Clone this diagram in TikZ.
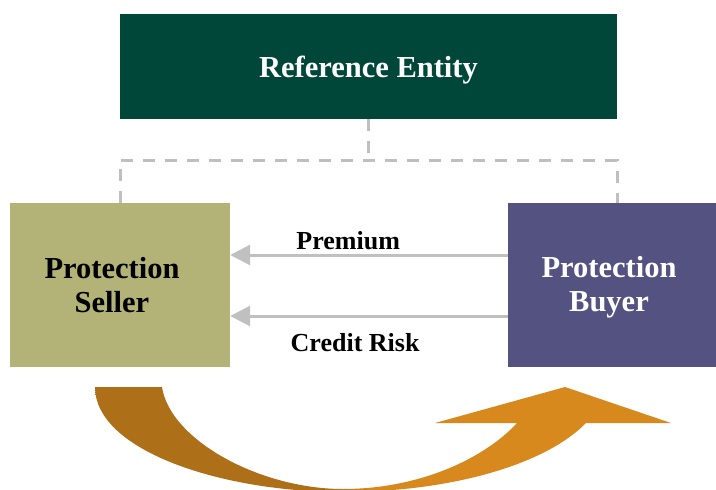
\documentclass[tikz,border=0pt]{standalone}
\usepackage{fontspec}
\setmainfont{Liberation Serif}
\usetikzlibrary{arrows.meta}
\definecolor{refgreen}{RGB}{0,71,58}
\definecolor{selolive}{RGB}{179,178,119}
\definecolor{buypurple}{RGB}{83,82,128}
\definecolor{dashgray}{RGB}{191,191,191}
\definecolor{arrgray}{RGB}{192,192,192}
\definecolor{arrbrown}{RGB}{173,112,24}
\definecolor{arrorange}{RGB}{216,137,30}
\pgfdeclarehorizontalshading{curvshade}{100bp}{color(0bp)=(arrbrown); color(45bp)=(arrbrown); color(49bp)=(arrorange); color(100bp)=(arrorange)}
\tikzset{
  box/.style={inner sep=0pt, align=center, font=\bfseries\fontsize{30.5}{34}\selectfont},
  dashline/.style={draw=dashgray, line width=3pt, dash pattern=on 12pt off 10pt},
  flow/.style={draw=arrgray, line width=3pt, -{Triangle[length=20pt,width=20pt]}},
  lbl/.style={font=\bfseries\fontsize{26}{30}\selectfont, text=black}
}
\begin{document}
\begin{tikzpicture}[x=1pt,y=-1pt]
\useasboundingbox (0,0) rectangle (716,490);
\node[box, fill=refgreen, minimum width=497pt, minimum height=105pt,
  label={[box, text=white, yshift=-4pt]center:Reference Entity}] (ref) at (368.5,66.5) {};
\node[box, fill=selolive, minimum width=220pt, minimum height=164pt,
  label={[box, text=black, xshift=-8pt]center:{Protection\\Seller}}] (seller) at (120,285) {};
\node[box, fill=buypurple, minimum width=208pt, minimum height=164pt,
  label={[box, text=white, xshift=-3pt, yshift=-2pt]center:{Protection\\Buyer}}] (buyer) at (612,285) {};
\draw[dashline] (ref.south) -- ++(0,41) coordinate (mid);
\draw[dashline] (seller.north) |- (mid) -| ([xshift=5pt]buyer.north);
\draw[flow] ([yshift=30pt]buyer.west) -- node[lbl, pos=0.575, yshift=14pt] {Premium} ([yshift=30pt]seller.east);
\draw[flow] ([yshift=-31pt]buyer.west) -- node[lbl, pos=0.55, yshift=-27pt] {Credit Risk} ([yshift=-31pt]seller.east);
\shade[shading=curvshade] (95,387) -- (162,387) .. controls (170,440) and (260,489) .. (343,489)
  .. controls (420,489) and (485,458) .. (517,423) -- (435,423) -- (565,387) -- (671,423) -- (586,423)
  .. controls (545,465) and (450,492) .. (343,492) .. controls (220,492) and (95,450) .. (95,387) -- cycle;
\end{tikzpicture}
\end{document}
